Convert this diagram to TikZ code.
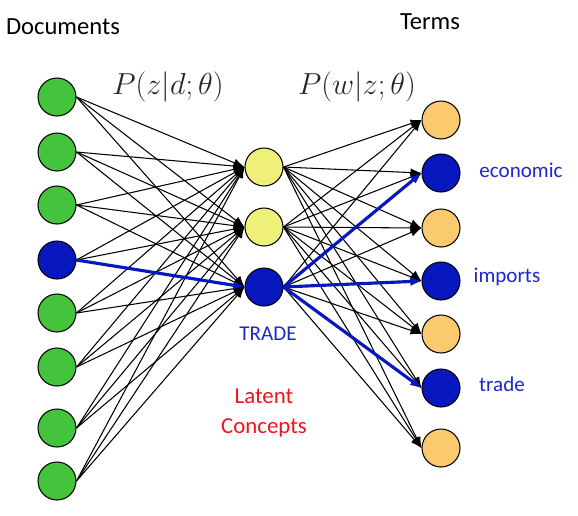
\documentclass[tikz,border=0pt]{standalone}
\usepackage{fontspec}
\setsansfont{Carlito}
\usetikzlibrary{arrows.meta}

\definecolor{docgreen}{RGB}{68,196,60}
\definecolor{selblue}{RGB}{6,24,190}
\definecolor{topicyellow}{RGB}{238,240,122}
\definecolor{termorange}{RGB}{252,202,110}
\definecolor{labblue}{RGB}{30,40,205}
\definecolor{labred}{RGB}{240,20,30}

\begin{document}
\begin{tikzpicture}[
  x=0.02cm,y=-0.02cm,
  font=\sffamily,
  >={Latex[length=2.2mm,width=1.7mm]},
  unit/.style={circle,draw=black,line width=0.6pt,minimum size=0.76cm,inner sep=0pt},
  hdr/.style={font=\sffamily\fontsize{14}{16}\selectfont,text=black},
  prob/.style={font=\fontsize{16}{18}\selectfont,text=black!85},
  word/.style={font=\sffamily\fontsize{12}{14}\selectfont,text=labblue},
  latent/.style={font=\sffamily\fontsize{13}{17}\selectfont,text=labred,align=center},
  edge/.style={->,line width=0.6pt,black},
  hot/.style={->,line width=1.8pt,selblue}
]
\useasboundingbox (0,0) rectangle (578,515);

%% ================= nodes =================
\foreach \i/\y/\c in {1/97/docgreen,2/152/docgreen,3/205/docgreen,4/260/selblue,
                      5/313/docgreen,6/367/docgreen,7/428/docgreen,8/481/docgreen}
  \node[unit,fill=\c] (d\i) at (57,\y) {};
\foreach \j/\y/\c in {1/167/topicyellow,2/227/topicyellow,3/287/selblue}
  \node[unit,fill=\c] (z\j) at (264,\y) {};
\foreach \k/\y/\c in {1/120/termorange,2/173/selblue,3/228/termorange,4/281/selblue,
                      5/334/termorange,6/388/selblue,7/448/termorange}
  \node[unit,fill=\c] (w\k) at (441,\y) {};

%% ================= edges =================
\foreach \i in {1,...,8}
  \foreach \j in {1,2,3}
    \draw[edge] (d\i.east) -- (z\j.west);
\foreach \j in {1,2,3}
  \foreach \k in {1,...,7}
    \draw[edge] (z\j.east) -- (w\k.west);

% the TRADE path
\draw[hot] (d4.east) -- (z3.west);
\foreach \k in {2,4,6} \draw[hot] (z3.east) -- (w\k.west);

%% ================= labels =================
\node[hdr]  (docs)  at (63,27)  {Documents};
\node[hdr]  (terms) at (430,22) {Terms};
\node[prob] (pzd)   at (168,87) {$P(z|d;\theta)$};
\node[prob] (pwz)   at (357,87) {$P(w|z;\theta)$};
\node[word] (econ)  at (521,170) {economic};
\node[word] (imp)   at (507,277) {imports};
\node[word] (trd)   at (502,384) {trade};
\node[word] (topic) at (268,334) {TRADE};
\node[latent] (lat) at (264,413) {Latent\\Concepts};

\end{tikzpicture}
\end{document}
